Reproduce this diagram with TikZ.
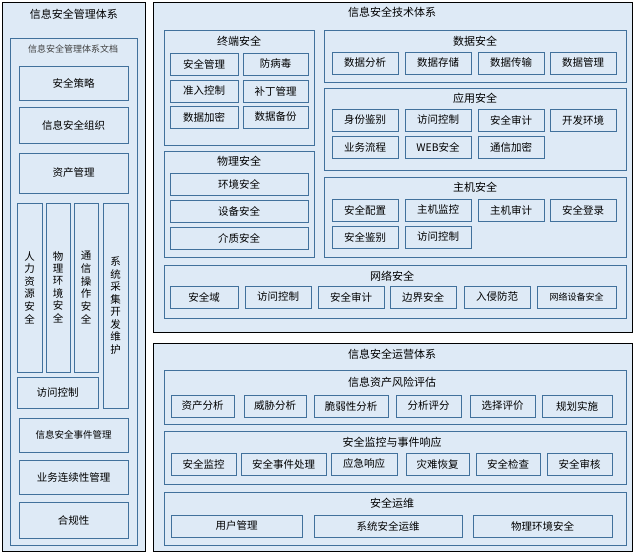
\documentclass[tikz,border=0pt]{standalone}
\usepackage{fontspec}
\newfontfamily\cjk{Noto Sans CJK SC}
\definecolor{bgc}{HTML}{DEEAF6}
\definecolor{bdc}{HTML}{41719C}
\tikzset{
  outer/.style={draw=black,fill=bgc,line width=0.9pt},
  grp/.style={draw=bdc,fill=bgc,line width=0.9pt},
  box/.style={draw=bdc,line width=0.9pt,inner sep=0pt,font=\cjk\fontsize{10.5}{12}\selectfont},
  ttl/.style={font=\cjk\fontsize{11}{13}\selectfont}
}
\newcommand\bx[5]{\node[box,minimum width={(#3-#1)*1pt},minimum height={(#4-#2)*1pt}] at ({(#1+#3)/2},{(#2+#4)/2}) {#5};}
\newcommand\gp[4]{\draw[grp] (#1,#2) rectangle (#3,#4);}
\newcommand\ttx[3]{\node[ttl] at (#1,#2) {#3};}
\newcommand\vt[1]{\shortstack{#1}}
\begin{document}
\begin{tikzpicture}[x=1pt,y=-1pt]
\useasboundingbox (0,0) rectangle (635,554);
\fill[white] (0,0) rectangle (635,554);
% left
\draw[outer] (2,2) rectangle (145,551);
\ttx{74}{14}{信息安全管理体系}
\gp{10}{38}{137}{545}
\node[font=\cjk\fontsize{9}{11}\selectfont,text=black!75] at (73,49) {信息安全管理体系文档};
\bx{19}{66}{128}{100}{安全策略}
\bx{19}{107}{128}{143}{信息安全组织}
\bx{19}{153}{128}{193}{资产管理}
\bx{17}{203}{42}{372}{\vt{人\\力\\资\\源\\安\\全}}
\bx{46}{203}{70}{372}{\vt{物\\理\\环\\境\\安\\全}}
\bx{74}{203}{98}{372}{\vt{通\\信\\操\\作\\安\\全}}
\bx{103}{203}{128}{408}{\vt{系\\统\\采\\集\\开\\发\\维\\护}}
\bx{17}{377}{98}{408}{访问控制}
\node[box,draw=bdc,minimum width=109pt,minimum height=34pt,font=\cjk\fontsize{9.5}{11}\selectfont] at (73.5,435) {信息安全事件管理};
\bx{19}{460}{128}{494}{业务连续性管理}
\bx{19}{502}{128}{538}{合规性}
% tech
\draw[outer] (153,2) rectangle (632,332);
\ttx{392}{12}{信息安全技术体系}
\gp{164}{30}{314}{145}
\ttx{239}{41}{终端安全}
\bx{170}{53}{238}{75}{安全管理}\bx{243}{53}{308}{75}{防病毒}
\bx{170}{80}{238}{102}{准入控制}\bx{243}{80}{308}{102}{补丁管理}
\bx{170}{106}{238}{128}{数据加密}\bx{243}{106}{308}{128}{数据备份}
\gp{164}{151}{314}{257}
\ttx{239}{161}{物理安全}
\bx{170}{173}{308}{195}{环境安全}
\bx{170}{200}{308}{222}{设备安全}
\bx{170}{227}{308}{249}{介质安全}
\gp{324}{30}{626}{82}
\ttx{475}{41}{数据安全}
\bx{332}{52}{398}{74}{数据分析}\bx{405}{52}{471}{74}{数据存储}
\bx{478}{52}{544}{74}{数据传输}\bx{550}{52}{616}{74}{数据管理}
\gp{324}{88}{626}{170}
\ttx{475}{98}{应用安全}
\bx{332}{109}{398}{131}{身份鉴别}\bx{405}{109}{471}{131}{访问控制}
\bx{478}{109}{544}{131}{安全审计}\bx{550}{109}{616}{131}{开发环境}
\bx{332}{136}{398}{158}{业务流程}\bx{405}{136}{471}{158}{WEB安全}
\bx{478}{136}{544}{158}{通信加密}
\gp{324}{177}{626}{257}
\ttx{475}{187}{主机安全}
\bx{332}{199}{398}{221}{安全配置}\bx{405}{199}{471}{221}{主机监控}
\bx{478}{199}{544}{221}{主机审计}\bx{550}{199}{616}{221}{安全登录}
\bx{332}{226}{398}{248}{安全鉴别}\bx{405}{226}{471}{248}{访问控制}
\gp{164}{265}{626}{318}
\ttx{392}{276}{网络安全}
\bx{170}{286}{238}{308}{安全域}\bx{245}{286}{311}{308}{访问控制}
\bx{318}{286}{384}{308}{安全审计}\bx{390}{286}{456}{308}{边界安全}
\bx{464}{286}{530}{308}{入侵防范}
\node[box,minimum width=79pt,minimum height=22pt,font=\cjk\fontsize{9}{11}\selectfont] at (576.5,297) {网络设备安全};
% ops
\draw[outer] (153,343) rectangle (632,551);
\ttx{392}{354}{信息安全运营体系}
\gp{164}{370}{626}{424}
\ttx{392}{382}{信息资产风险评估}
\bx{171}{395}{234}{417}{资产分析}\bx{244}{395}{306}{417}{威胁分析}
\bx{314}{395}{388}{417}{脆弱性分析}\bx{396}{395}{461}{417}{分析评分}
\bx{470}{395}{535}{417}{选择评价}\bx{542}{395}{612}{417}{规划实施}
\gp{164}{431}{626}{484}
\ttx{392}{442}{安全监控与事件响应}
\bx{171}{453}{236}{475}{安全监控}\bx{241}{453}{326}{475}{安全事件处理}
\bx{331}{453}{397}{475}{应急响应}\bx{406}{453}{469}{475}{灾难恢复}
\bx{476}{453}{540}{475}{安全检查}\bx{547}{453}{612}{475}{安全审核}
\gp{164}{492}{626}{545}
\ttx{392}{503}{安全运维}
\bx{171}{515}{302}{537}{用户管理}\bx{314}{515}{462}{537}{系统安全运维}
\bx{473}{515}{612}{537}{物理环境安全}
\end{tikzpicture}
\end{document}
